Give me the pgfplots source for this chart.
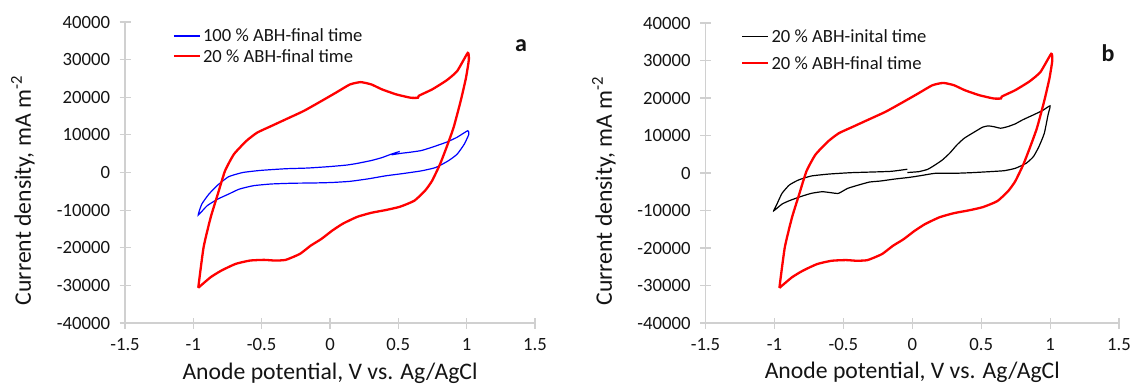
\documentclass[border=0pt]{standalone}
\usepackage{fontspec}
\setmainfont{Carlito}
\usepackage{pgfplots}
\pgfplotsset{compat=1.18}
\definecolor{axisgray}{RGB}{208,208,208}
\definecolor{txt}{RGB}{20,20,20}
\pgfplotsset{
  cvstyle/.style={
    scale only axis,
    anchor=south west,
    xmin=-1.5, xmax=1.5, ymin=-40000, ymax=40000,
    scaled x ticks=false, scaled y ticks=false,
    axis lines=left,
    axis line style={draw=axisgray, line width=1.2bp, -},
    xtick={-1.5,-1,-0.5,0,0.5,1,1.5},
    xticklabels={-1.5,-1,-0.5,0,0.5,1,1.5},
    ytick={-40000,-30000,-20000,-10000,0,10000,20000,30000,40000},
    yticklabels={-40000,-30000,-20000,-10000,0,10000,20000,30000,40000},
    tick align=center,
    major tick length=11bp,
    tick style={draw=axisgray, line width=1.2bp},
    ticklabel style={font=\fontsize{18.7bp}{20bp}\selectfont, text=txt},
    yticklabel style={xshift=-6bp},
    xticklabel style={yshift=-6bp},
    label style={font=\fontsize{23.7bp}{26bp}\selectfont, text=txt},
    xlabel={Anode potential, V vs. Ag/AgCl},
    ylabel={Current density, mA m\textsuperscript{-2}},
    xlabel style={at={(axis description cs:0.5,-0.166)}, anchor=center},
    ylabel style={at={(axis description cs:-0.249,0.44)}, anchor=center},
    clip=false,
    legend cell align=left,
    legend style={draw=none, fill=none, font=\fontsize{18.6bp}{20bp}\selectfont, text=txt, inner sep=0pt, anchor=north west},
    legend image code/.code={\draw[##1] (0bp,0bp) -- (26bp,0bp);},
  }
}
\begin{document}
\begin{tikzpicture}[x=1bp,y=1bp]
\useasboundingbox (0,0) rectangle (1130,390);
% ---------- panel a ----------
\begin{axis}[cvstyle, at={(125bp,67bp)}, width=410bp, height=301bp,
  legend style={at={(axis description cs:0.116,0.985)}, row sep=2bp}]
\addplot[blue, line width=1.2bp, smooth, tension=0.3] coordinates {
(0.45,4700)(0.52,5100)(0.590,5400)(0.669,5840)(0.747,6720)(0.852,8050)(0.930,9370)(1.008,11100)
(1.016,10160)(0.982,7510)(0.930,4860)(0.865,3090)(0.773,1320)(0.669,440)(0.538,-260)(0.408,-880)
(0.277,-1700)(0.146,-2350)(0.016,-2650)(-0.115,-2780)(-0.272,-2850)(-0.429,-3050)(-0.559,-3500)
(-0.664,-4420)(-0.742,-5740)(-0.821,-7060)(-0.899,-8830)(-0.964,-11300)
(-0.938,-8390)(-0.886,-5740)(-0.821,-3330)(-0.742,-1120)(-0.638,0)(-0.507,560)(-0.324,1000)
(-0.167,1180)(-0.011,1550)(0.120,1970)(0.198,2410)(0.303,3190)(0.381,3970)(0.447,4860)(0.51,5600)
};
\addlegendentry{100 \% ABH-final time}
\addplot[red, line width=2.3bp, smooth, tension=0.3] coordinates {
(-0.964,-30640)(-0.925,-19870)(-0.873,-11920)(-0.821,-5740)(-0.768,440)(-0.703,4860)(-0.612,8390)
(-0.533,10600)(-0.429,12360)(-0.324,14130)(-0.193,16340)(-0.063,18990)(0.042,21190)(0.146,23400)
(0.225,24020)(0.303,23400)(0.381,22080)(0.486,20750)(0.590,19870)(0.643,19870)(0.650,20400)
(0.747,22080)(0.852,24460)(0.930,26930)(1.008,31790)
(1.016,30020)(0.995,25170)(0.956,18990)(0.904,11920)(0.852,6620)(0.805,2210)(0.747,-2210)
(0.695,-4860)(0.617,-7500)(0.512,-9100)(0.408,-9980)(0.303,-10700)(0.198,-11800)(0.094,-13600)
(0.016,-15450)(-0.063,-17660)(-0.141,-19430)(-0.220,-21630)(-0.324,-23220)(-0.403,-23400)
(-0.481,-23220)(-0.585,-23400)(-0.690,-24280)(-0.794,-26050)(-0.873,-27820)(-0.964,-30640)
};
\addlegendentry{20 \% ABH-final time}
\end{axis}
% ---------- panel b ----------
\begin{axis}[cvstyle, at={(705.5bp,67bp)}, width=413.5bp, height=300bp,
  ylabel style={at={(axis description cs:-0.246,0.44)}},
  legend style={at={(axis description cs:0.086,0.985)}, row sep=8bp}]
\addplot[black, line width=1.2bp, smooth, tension=0.3] coordinates {
(-0.036,130)(0.047,360)(0.112,980)(0.165,2140)(0.218,3470)(0.271,5260)(0.324,7480)(0.377,9270)
(0.456,11050)(0.509,12200)(0.549,12560)(0.588,12380)(0.641,11940)(0.694,12380)(0.747,13100)
(0.800,14160)(0.879,15500)(0.945,16660)(1.000,17910)
(0.985,15500)(0.958,10600)(0.919,7040)(0.879,4370)(0.826,2580)(0.747,1250)(0.668,620)(0.562,360)
(0.430,90)(0.298,-90)(0.165,-90)(0.060,-710)(-0.020,-1160)(-0.125,-1600)(-0.231,-2140)(-0.310,-2410)
(-0.390,-3210)(-0.469,-4100)(-0.535,-5430)(-0.588,-5260)(-0.654,-4990)(-0.733,-5430)(-0.813,-6330)
(-0.892,-7390)(-0.945,-8290)(-1.005,-10070)
(-0.985,-8550)(-0.945,-5430)(-0.892,-3210)(-0.826,-1870)(-0.733,-800)(-0.601,-270)(-0.443,90)
(-0.284,270)(-0.152,450)(-0.036,1000)
};
\addlegendentry{20 \% ABH-inital time}
\addplot[red, line width=2.3bp, smooth, tension=0.3] coordinates {
(-0.964,-30640)(-0.925,-19870)(-0.873,-11920)(-0.821,-5740)(-0.768,440)(-0.703,4860)(-0.612,8390)
(-0.533,10600)(-0.429,12360)(-0.324,14130)(-0.193,16340)(-0.063,18990)(0.042,21190)(0.146,23400)
(0.225,24020)(0.303,23400)(0.381,22080)(0.486,20750)(0.590,19870)(0.643,19870)(0.650,20400)
(0.747,22080)(0.852,24460)(0.930,26930)(1.008,31790)
(1.016,30020)(0.995,25170)(0.956,18990)(0.904,11920)(0.852,6620)(0.805,2210)(0.747,-2210)
(0.695,-4860)(0.617,-7500)(0.512,-9100)(0.408,-9980)(0.303,-10700)(0.198,-11800)(0.094,-13600)
(0.016,-15450)(-0.063,-17660)(-0.141,-19430)(-0.220,-21630)(-0.324,-23220)(-0.403,-23400)
(-0.481,-23220)(-0.585,-23400)(-0.690,-24280)(-0.794,-26050)(-0.873,-27820)(-0.964,-30640)
};
\addlegendentry{20 \% ABH-final time}
\end{axis}
\node[font=\bfseries\fontsize{24bp}{24bp}\selectfont, text=txt] at (521,344) {a};
\node[font=\bfseries\fontsize{24bp}{24bp}\selectfont, text=txt] at (1108,337) {b};
\end{tikzpicture}
\end{document}
